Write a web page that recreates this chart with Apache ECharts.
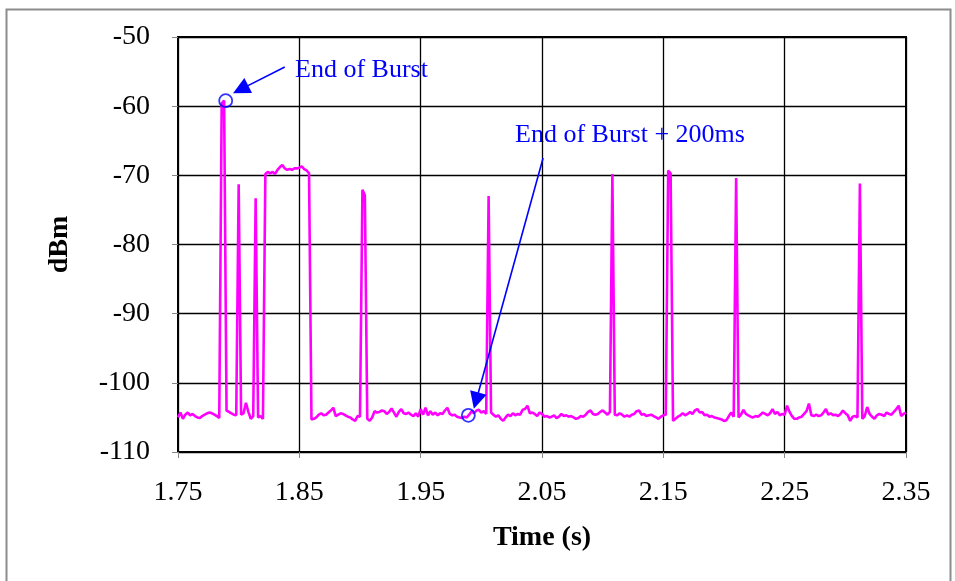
<!DOCTYPE html>
<html>
<head>
<meta charset="utf-8">
<script src="https://cdn.jsdelivr.net/npm/echarts@6/dist/echarts.min.js"></script>
<style>
html,body{margin:0;padding:0;background:#fff;}
#chart{width:955px;height:581px;}
</style>
</head>
<body>
<div id="chart"></div>
<script>
// ---- data ----
const xTicks = [1.75, 1.85, 1.95, 2.05, 2.15, 2.25, 2.35];
const times = [
1.750,1.752,1.754,1.756,1.758,1.760,1.762,1.764,1.766,1.768,
1.770,1.772,1.774,1.776,1.778,1.780,1.782,1.784,1.786,1.788,
1.790,1.792,1.794,1.796,1.798,1.800,1.802,1.804,1.806,1.808,
1.810,1.812,1.814,1.816,1.818,1.820,1.822,1.824,1.826,1.828,
1.830,1.832,1.834,1.836,1.838,1.840,1.842,1.844,1.846,1.848,
1.850,1.852,1.854,1.856,1.858,1.860,1.862,1.864,1.866,1.868,
1.870,1.872,1.874,1.876,1.878,1.880,1.882,1.884,1.886,1.888,
1.890,1.892,1.894,1.896,1.898,1.900,1.902,1.904,1.906,1.908,
1.910,1.912,1.914,1.916,1.918,1.920,1.922,1.924,1.926,1.928,
1.930,1.932,1.934,1.936,1.938,1.940,1.942,1.944,1.946,1.948,
1.950,1.952,1.954,1.956,1.958,1.960,1.962,1.964,1.966,1.968,
1.970,1.972,1.974,1.976,1.978,1.980,1.982,1.984,1.986,1.988,
1.990,1.992,1.994,1.996,1.998,2.000,2.002,2.004,2.006,2.008,
2.010,2.012,2.014,2.016,2.018,2.020,2.022,2.024,2.026,2.028,
2.030,2.032,2.034,2.036,2.038,2.040,2.042,2.044,2.046,2.048,
2.050,2.052,2.054,2.056,2.058,2.060,2.062,2.064,2.066,2.068,
2.070,2.072,2.074,2.076,2.078,2.080,2.082,2.084,2.086,2.088,
2.090,2.092,2.094,2.096,2.098,2.100,2.102,2.104,2.106,2.108,
2.110,2.112,2.114,2.116,2.118,2.120,2.122,2.124,2.126,2.128,
2.130,2.132,2.134,2.136,2.138,2.140,2.142,2.144,2.146,2.148,
2.150,2.152,2.154,2.156,2.158,2.160,2.162,2.164,2.166,2.168,
2.170,2.172,2.174,2.176,2.178,2.180,2.182,2.184,2.186,2.188,
2.190,2.192,2.194,2.196,2.198,2.200,2.202,2.204,2.206,2.208,
2.210,2.212,2.214,2.216,2.218,2.220,2.222,2.224,2.226,2.228,
2.230,2.232,2.234,2.236,2.238,2.240,2.242,2.244,2.246,2.248,
2.250,2.252,2.254,2.256,2.258,2.260,2.262,2.264,2.266,2.268,
2.270,2.272,2.274,2.276,2.278,2.280,2.282,2.284,2.286,2.288,
2.290,2.292,2.294,2.296,2.298,2.300,2.302,2.304,2.306,2.308,
2.310,2.312,2.314,2.316,2.318,2.320,2.322,2.324,2.326,2.328,
2.330,2.332,2.334,2.336,2.338,2.340,2.342,2.344,2.346,2.348,
2.350
];
const dbm = [
-105.0,-104.3,-105.2,-104.6,-104.3,-104.7,-104.5,-104.8,-105.0,-105.1,
-104.8,-104.6,-104.4,-104.3,-104.4,-104.6,-104.8,-105.1,-59.6,-59.2,
-104.0,-104.2,-104.4,-104.6,-104.7,-71.3,-104.6,-104.4,-102.9,-104.2,
-105.2,-104.8,-73.3,-105.0,-104.8,-105.2,-69.8,-69.5,-69.7,-69.5,
-69.8,-69.2,-68.8,-68.5,-69.0,-69.2,-69.1,-69.2,-69.0,-69.0,
-68.9,-68.7,-69.1,-69.3,-69.7,-105.3,-105.2,-105.0,-104.6,-104.4,
-104.7,-104.6,-104.3,-104.0,-103.6,-104.8,-104.6,-104.4,-104.5,-104.7,
-104.9,-105.0,-105.3,-105.5,-104.8,-104.9,-72.1,-72.9,-105.2,-105.5,
-105.0,-104.1,-104.3,-104.2,-104.0,-104.1,-104.5,-104.2,-103.7,-104.3,
-104.9,-104.2,-103.8,-104.4,-104.5,-104.3,-104.6,-104.8,-104.4,-104.9,
-103.8,-104.6,-103.6,-104.7,-104.1,-104.6,-104.3,-104.7,-104.4,-104.5,
-104.0,-103.6,-104.5,-104.7,-104.6,-104.9,-105.0,-105.1,-104.9,-105.0,
-104.6,-104.1,-104.4,-104.0,-103.9,-104.3,-104.1,-104.5,-73.0,-104.3,
-104.6,-104.9,-104.7,-105.2,-105.5,-105.0,-104.6,-104.8,-104.4,-104.7,
-104.5,-104.6,-103.9,-103.8,-103.3,-104.4,-104.3,-104.5,-104.8,-104.3,
-104.5,-104.9,-104.8,-105.0,-104.9,-104.7,-105.1,-104.9,-104.5,-104.8,
-104.7,-104.9,-104.8,-105.0,-105.2,-105.1,-104.8,-104.9,-104.6,-104.2,
-104.0,-104.5,-104.6,-104.5,-104.2,-104.0,-104.3,-104.6,-104.2,-69.8,
-104.6,-104.7,-104.4,-104.6,-104.9,-104.7,-104.9,-104.6,-104.5,-104.1,
-104.0,-104.6,-104.5,-104.8,-104.7,-104.6,-104.8,-105.0,-105.2,-104.9,
-104.7,-104.6,-69.3,-69.7,-105.5,-105.2,-104.9,-104.7,-104.4,-104.7,
-104.5,-104.2,-104.5,-104.0,-103.8,-104.3,-104.2,-104.7,-104.6,-104.9,
-104.8,-105.0,-105.1,-105.2,-105.3,-105.5,-105.4,-104.8,-104.3,-104.9,
-70.4,-105.0,-104.6,-103.9,-104.5,-104.7,-104.9,-105.0,-104.8,-104.9,
-104.6,-104.3,-104.5,-104.7,-104.4,-103.8,-104.5,-104.2,-104.7,-104.5,
-104.6,-103.3,-104.2,-104.8,-105.2,-105.2,-105.0,-104.9,-104.5,-104.1,
-103.0,-104.7,-104.8,-104.6,-104.8,-104.7,-104.3,-103.8,-104.6,-104.4,
-104.7,-104.6,-104.8,-104.5,-104.0,-104.4,-104.7,-105.5,-104.9,-104.8,
-105.0,-71.2,-105.2,-104.8,-103.5,-104.5,-104.9,-105.2,-104.7,-104.5,
-104.6,-104.8,-104.3,-104.5,-104.6,-104.2,-103.8,-103.3,-104.8,-104.5,
-104.3
];
// annotated points: end of burst, and end of burst + 200 ms
const markTimes = [1.7893, 1.9893];
const markValues = [-59.2, -104.7];
const markLabels = ['End of Burst', 'End of Burst + 200ms'];

// ---- build ----
const lineData = times.map((t, i) => [t, dbm[i]]);
const markData = markTimes.map((t, i) => [t, markValues[i]]);

const serif = '"Liberation Serif", "Times New Roman", serif';
const chart = echarts.init(document.getElementById('chart'), null, {renderer: 'canvas'});
chart.setOption({
  animation: false,
  backgroundColor: '#fff',
  grid: {left: 178, right: 49, top: 37, bottom: 129, show: true, borderColor: '#000', borderWidth: 2, backgroundColor: 'transparent'},
  xAxis: {
    type: 'value', min: 1.75, max: 2.35,
    name: 'Time (s)', nameLocation: 'middle', nameGap: 72,
    nameTextStyle: {fontFamily: serif, fontSize: 28, fontWeight: 'bold', color: '#000'},
    axisLine: {show: true, lineStyle: {color: '#000', width: 2}},
    axisTick: {show: true, length: 6, inside: false, customValues: xTicks, lineStyle: {color: '#888', width: 1}},
    axisLabel: {customValues: xTicks, margin: 27, fontFamily: serif, fontSize: 28, color: '#000',
      formatter: v => Number(v).toFixed(2)},
    splitLine: {show: true, lineStyle: {color: '#000', width: 1.3}}
  },
  yAxis: {
    type: 'value', min: -110, max: -50, interval: 10,
    name: 'dBm', nameLocation: 'middle', nameGap: 104,
    nameTextStyle: {fontFamily: serif, fontSize: 28, fontWeight: 'bold', color: '#000'},
    axisLine: {show: true, lineStyle: {color: '#000', width: 2}},
    axisTick: {show: true, length: 6, inside: false, lineStyle: {color: '#888', width: 1}},
    axisLabel: {margin: 28, fontFamily: serif, fontSize: 28, color: '#000'},
    splitLine: {show: true, lineStyle: {color: '#000', width: 1.3}}
  },
  series: [
    {
      type: 'line', data: lineData, showSymbol: false, symbol: 'none',
      lineStyle: {color: '#ff00ff', width: 2.6}, z: 3
    },
    {
      type: 'scatter', data: markData, symbol: 'circle', symbolSize: 13,
      itemStyle: {color: 'rgba(0,0,0,0)', borderColor: '#0000ff', borderWidth: 1.8}, z: 5,
      markLine: {
        silent: true, animation: false,
        symbol: ['none', 'triangle'], symbolSize: 17,
        label: {show: false},
        lineStyle: {color: '#0000ff', width: 1.6, type: 'solid'},
        data: [
          [{coord: [1.838, -54.35]}, {coord: [1.8016, -57.57]}],
          [{coord: [2.0509, -67.5]}, {coord: [1.9957, -102.58]}]
        ]
      }
    }
  ],
  graphic: [
    {type: 'rect', left: 4, top: 7, z: -1, silent: true,
      shape: {width: 944, height: 600}, style: {fill: 'none', stroke: '#8c8c8c', lineWidth: 2}},
    {type: 'text', left: 295, top: 57, style: {text: markLabels[0], font: '26px ' + serif, fill: '#0000ff'}},
    {type: 'text', left: 515, top: 122, style: {text: markLabels[1], font: '26px ' + serif, fill: '#0000ff'}}
  ]
});
</script>
</body>
</html>
